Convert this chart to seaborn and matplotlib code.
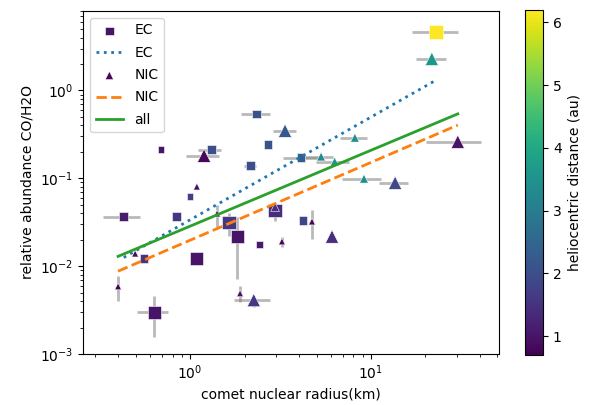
import numpy as np
import pandas as pd
import matplotlib
matplotlib.use('Agg')
import matplotlib.pyplot as plt
import seaborn as sns

# EC comets: radius (km), CO/H2O abundance, heliocentric distance (au), marker size class
ec_radius = [0.69, 22.9, 2.34, 1.31, 2.70, 2.15, 4.1, 1.0, 0.84, 0.43, 1.64, 1.82, 2.95, 2.43, 4.21, 1.09, 0.557, 0.633]
ec_abund = [0.212, 4.64, 0.54, 0.212, 0.241, 0.139, 0.172, 0.062, 0.0367, 0.0367, 0.0314, 0.0217, 0.043, 0.0177, 0.033, 0.0122, 0.0122, 0.00298]
ec_dist = [1.0, 6.2, 2.1, 2.0, 2.1, 2.0, 2.3, 1.7, 1.6, 1.1, 1.6, 1.0, 1.4, 1.1, 1.8, 1.0, 1.5, 1.0]
ec_size = [1, 3, 2, 2, 2, 2, 2, 1, 2, 2, 3, 3, 3, 1, 2, 3, 2, 3]
ec_r_lo = [0.69, 16.8, 1.91, 1.107, 2.70, 1.99, 3.26, 1.0, 0.81, 0.33, 1.64, 1.82, 2.95, 2.43, 4.21, 1.09, 0.53, 0.51]
ec_r_hi = [0.69, 30.2, 2.77, 1.48, 2.70, 2.32, 5.22, 1.0, 0.88, 0.53, 1.64, 1.82, 2.95, 2.43, 4.21, 1.09, 0.59, 0.756]
ec_a_lo = [0.212, 4.64, 0.54, 0.212, 0.241, 0.139, 0.172, 0.062, 0.0367, 0.0367, 0.0223, 0.00706, 0.033, 0.0177, 0.033, 0.0122, 0.0122, 0.00155]
ec_a_hi = [0.212, 4.64, 0.54, 0.212, 0.241, 0.139, 0.172, 0.062, 0.0367, 0.0367, 0.0408, 0.0367, 0.053, 0.0177, 0.033, 0.0122, 0.0122, 0.00453]

# NIC comets
nic_radius = [1.195, 21.7, 30.2, 3.35, 1.09, 8.15, 5.3, 6.3, 9.15, 13.6, 1.41, 2.95, 4.72, 6.09, 3.22, 0.497, 0.40, 1.89, 2.25]
nic_abund = [0.181, 2.29, 0.261, 0.348, 0.0805, 0.29, 0.177, 0.155, 0.099, 0.089, 0.0397, 0.047, 0.0322, 0.0217, 0.0191, 0.0139, 0.00588, 0.0049, 0.0041]
nic_dist = [0.8, 3.6, 1.0, 2.2, 0.9, 3.4, 3.3, 3.5, 3.4, 1.9, 0.9, 1.4, 0.8, 1.4, 0.8, 0.9, 0.7, 1.0, 1.6]
nic_size = [3, 3, 3, 3, 1, 2, 2, 2, 2, 3, 1, 2, 1, 3, 1, 1, 1, 1, 3]
nic_r_lo = [0.95, 17.7, 20.1, 2.87, 1.09, 6.74, 4.2, 4.97, 6.9, 11.1, 1.41, 2.95, 4.72, 6.09, 3.22, 0.497, 0.40, 1.89, 1.75]
nic_r_hi = [1.45, 26.0, 40.4, 3.85, 1.09, 9.5, 6.17, 7.56, 11.3, 16.0, 1.41, 2.95, 4.72, 6.09, 3.22, 0.497, 0.40, 1.89, 2.77]
nic_a_lo = [0.181, 2.29, 0.261, 0.348, 0.0805, 0.29, 0.177, 0.155, 0.099, 0.089, 0.028, 0.047, 0.0202, 0.0217, 0.0164, 0.0139, 0.0040, 0.0039, 0.0034]
nic_a_hi = [0.181, 2.29, 0.261, 0.348, 0.0805, 0.29, 0.177, 0.155, 0.099, 0.089, 0.05, 0.047, 0.044, 0.0217, 0.0217, 0.0139, 0.0077, 0.0060, 0.0041]

# power-law fits (log10 slope, log10 intercept)
fit_labels = ['EC', 'NIC', 'all']
fit_slope = [1.17, 0.886, 0.864]
fit_logc = [-1.473, -1.705, -1.545]

dist_range = (0.7, 6.2)

ec = pd.DataFrame({'r': ec_radius, 'a': ec_abund, 'd': ec_dist, 'sz': ec_size})
nic = pd.DataFrame({'r': nic_radius, 'a': nic_abund, 'd': nic_dist, 'sz': nic_size})
size_map = {1: 24, 2: 40, 3: 90}

fig = plt.figure(figsize=(5.9, 4.05), dpi=100)
ax = fig.add_axes([0.1407, 0.126, 0.705, 0.847])
cax = fig.add_axes([0.890, 0.1235, 0.0305, 0.852])

# error bars
for df, rl, rh, al, ah in [(ec, ec_r_lo, ec_r_hi, ec_a_lo, ec_a_hi),
                           (nic, nic_r_lo, nic_r_hi, nic_a_lo, nic_a_hi)]:
    xerr = [df['r'] - np.array(rl), np.array(rh) - df['r']]
    yerr = [df['a'] - np.array(al), np.array(ah) - df['a']]
    ax.errorbar(df['r'], df['a'], xerr=xerr, yerr=yerr, fmt='none',
                ecolor='grey', alpha=0.55, elinewidth=2, zorder=0.5)

def fit_line(i, rmin, rmax, **kw):
    xs = np.array([rmin, rmax])
    ys = 10 ** fit_logc[i] * xs ** fit_slope[i]
    return ax.plot(xs, ys, label=fit_labels[i], **kw)[0]

sns.scatterplot(data=ec, x='r', y='a', hue='d', hue_norm=dist_range, palette='viridis',
                size='sz', sizes=size_map, marker='s', legend=False, ax=ax)
ec_pts = ax.collections[-1]
ec_line = fit_line(0, min(ec_radius), max(ec_radius), color='C0', ls=':', lw=2)

sns.scatterplot(data=nic, x='r', y='a', hue='d', hue_norm=dist_range, palette='viridis',
                size='sz', sizes=size_map, marker='^', legend=False, ax=ax)
nic_pts = ax.collections[-1]
nic_line = fit_line(1, min(nic_radius), max(nic_radius), color='C1', ls='--', lw=2)

all_r = ec_radius + nic_radius
all_line = fit_line(2, min(all_r), max(all_r), color='C2', ls='-', lw=2)

ax.set_xscale('log')
ax.set_yscale('log')
ax.set_xlim(0.256, 51)
ax.set_ylim(1e-3, 8.05)
ax.set_xlabel('comet nuclear radius(km)')
ax.set_ylabel('relative abundance CO/H2O')

leg = ax.legend([ec_pts, ec_line, nic_pts, nic_line, all_line],
                ['EC', 'EC', 'NIC', 'NIC', 'all'], loc='upper left', labelspacing=0.6)
for h in leg.legend_handles:
    if hasattr(h, 'set_sizes'):
        h.set_sizes([36])

sm = plt.cm.ScalarMappable(norm=plt.Normalize(*dist_range), cmap='viridis')
cb = fig.colorbar(sm, cax=cax)
cb.set_label('heliocentric distance (au)')

fig.savefig('out.png', dpi=100)
